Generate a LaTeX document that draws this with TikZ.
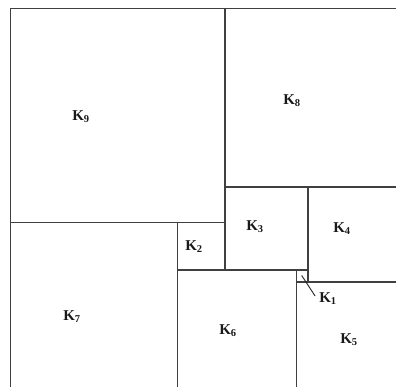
\documentclass[tikz,border=0pt]{standalone}
\usepackage{fontspec}
\setmainfont{Liberation Serif}
\begin{document}
\begin{tikzpicture}[x=1pt,y=-1pt,
  sq/.style={draw=black!75, line width=1.5pt},
  lab/.style={font=\bfseries\fontsize{15}{17}\selectfont, inner sep=0pt, text=black!90},
  ptr/.style={draw=black!85, line width=0.9pt}]
\useasboundingbox (0,0) rectangle (396,387);
\fill[white] (0,0) rectangle (396,387);
\clip (0,0) rectangle (396,387);
\begin{scope}[shift={(10.7,8.3)}, x=11.9pt, y=-11.9pt]
  \draw[sq] (0,0) rectangle (18,18);   % K9
  \draw[sq] (18,0) rectangle (33,15);  % K8
  \draw[sq] (18,15) rectangle (25,22); % K3
  \draw[sq] (25,15) rectangle (33,23); % K4
  \draw[sq] (14,18) rectangle (18,22); % K2
  \draw[sq] (0,18) rectangle (14,32);  % K7
  \draw[sq] (14,22) rectangle (24,32); % K6
  \draw[sq] (24,22) rectangle (25,23); % K1
  \draw[sq] (24,23) rectangle (33,32); % K5
  \coordinate (k1c) at (24.45,22.45);
\end{scope}
\node[lab] (l9) at (81,117) {K\textsubscript{9}};
\node[lab] (l8) at (292,101) {K\textsubscript{8}};
\node[lab] (l3) at (255,227) {K\textsubscript{3}};
\node[lab] (l4) at (342,229) {K\textsubscript{4}};
\node[lab] (l2) at (194,247) {K\textsubscript{2}};
\node[lab] (l1) at (328,299) {K\textsubscript{1}};
\node[lab] (l7) at (72,317) {K\textsubscript{7}};
\node[lab] (l6) at (228,331) {K\textsubscript{6}};
\node[lab] (l5) at (349,340) {K\textsubscript{5}};
\draw[ptr] (k1c) -- ([xshift=-4pt,yshift=3pt]l1.west);
\end{tikzpicture}
\end{document}
